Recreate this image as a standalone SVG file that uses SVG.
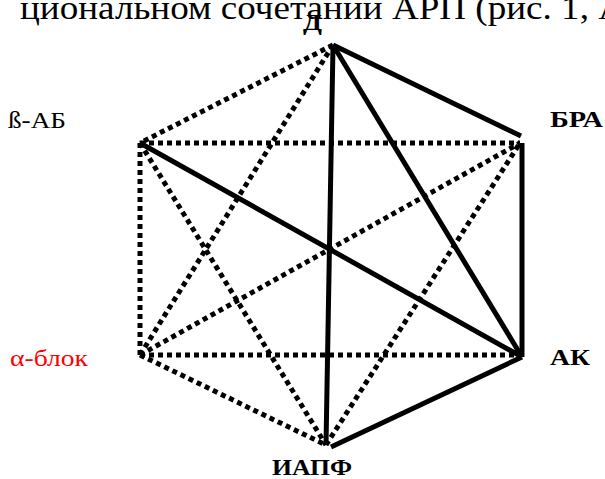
<svg xmlns="http://www.w3.org/2000/svg" width="605" height="479" viewBox="0 0 605 479">
<style>
.s{stroke:#000;stroke-width:5;fill:none;stroke-linecap:butt}
.d{stroke:#000;stroke-width:5;fill:none;stroke-dasharray:5 4}
.t{font-family:"Liberation Serif","Times New Roman",serif;font-size:23px;fill:#000}
.b{font-weight:bold;font-size:23px}
</style>
<rect width="605" height="479" fill="#fff"/>
<text x="20" y="19" class="t" style="font-size:34px" textLength="605" lengthAdjust="spacingAndGlyphs">циональном сочетании АРП (рис. 1, А</text>
<g id="connectors">
<line class="d" x1="333" y1="45" x2="140" y2="143"/>
<line class="d" x1="140" y1="143" x2="520" y2="143"/>
<line class="d" x1="140" y1="143" x2="140" y2="355"/>
<line class="d" x1="140" y1="355" x2="522" y2="355"/>
<line class="d" x1="140" y1="355" x2="326" y2="445"/>
<line class="d" x1="333" y1="45" x2="140" y2="355"/>
<line class="d" x1="140" y1="143" x2="326" y2="445"/>
<line class="d" x1="140" y1="355" x2="520" y2="143"/>
<line class="d" x1="326" y1="445" x2="520" y2="143"/>
<line class="s" x1="333" y1="45" x2="521" y2="136"/>
<line class="s" x1="333" y1="45" x2="522" y2="357"/>
<line class="s" x1="333" y1="45" x2="326" y2="445"/>
<line class="s" x1="522" y1="143" x2="522" y2="357"/>
<line class="s" x1="140" y1="143" x2="522" y2="357"/>
<line class="s" x1="522" y1="357" x2="331" y2="447"/>
</g>
<g id="n-d"><text x="303" y="30" class="t b" textLength="19" lengthAdjust="spacingAndGlyphs">Д</text></g>
<g id="n-bra"><text x="550" y="127" class="t b" textLength="53" lengthAdjust="spacingAndGlyphs">БРА</text></g>
<g id="n-ak"><text x="550" y="365" class="t b" textLength="40" lengthAdjust="spacingAndGlyphs">АК</text></g>
<g id="n-iapf"><text x="272" y="475" class="t b" textLength="80" lengthAdjust="spacingAndGlyphs">ИАПФ</text></g>
<g id="n-alpha"><text x="10" y="366" class="t" style="fill:#f00" textLength="78" lengthAdjust="spacingAndGlyphs">α-блок</text></g>
<g id="n-beta"><text x="8" y="128" class="t" textLength="58" lengthAdjust="spacingAndGlyphs">ß-АБ</text></g>
</svg>
